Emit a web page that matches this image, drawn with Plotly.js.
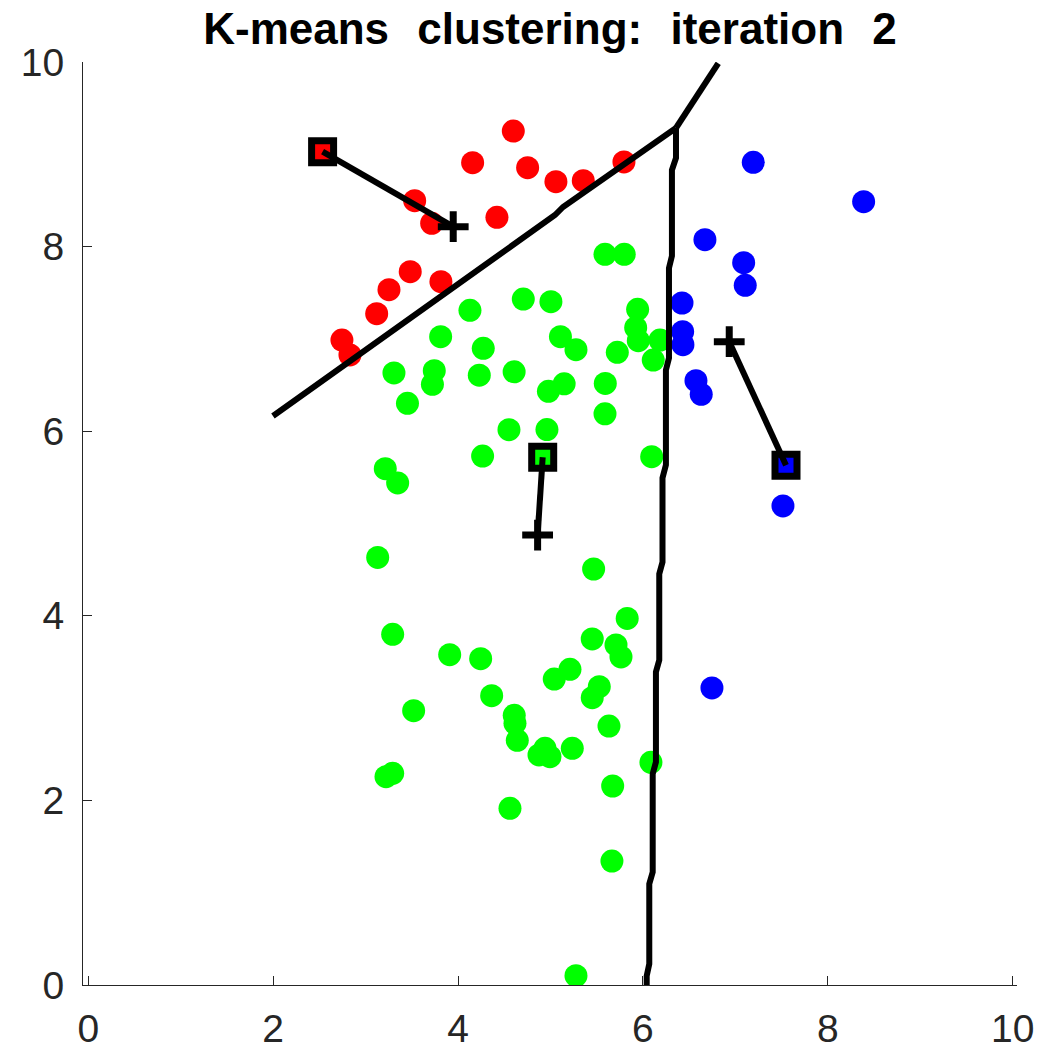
<!DOCTYPE html>
<html>
<head>
<meta charset="utf-8">
<script src="https://cdn.plot.ly/plotly-3.0.1.min.js"></script>
<style>
  html, body { margin: 0; padding: 0; background: #ffffff; }
  #chart { width: 1041px; height: 1053px; }
  .gtitle { word-spacing: 16px; }
</style>
</head>
<body>
<div id="chart"></div>
<script>
// ---- Data ----
const titleText = "K-means clustering: iteration 2";
const tickValues = [0, 2, 4, 6, 8, 10];
const tickLabels = ["0", "2", "4", "6", "8", "10"];

// Cluster 1 (red)
const redX = [4.598, 4.158, 4.753, 5.059, 5.355, 5.795, 3.531, 3.715, 4.421, 3.483, 3.253, 3.815, 3.120, 2.744, 2.831];
const redY = [9.252, 8.909, 8.855, 8.703, 8.714, 8.917, 8.497, 8.253, 8.317, 7.728, 7.533, 7.620, 7.273, 6.988, 6.826];

// Cluster 2 (green)
const greenX = [5.590, 5.798, 4.706, 5.005, 4.129, 5.943, 5.922, 5.950, 6.185, 3.812,
                5.108, 5.276, 4.273, 5.723, 6.112, 3.307, 3.743, 3.723, 4.230, 4.607,
                5.148, 4.978, 5.593, 3.453, 5.590, 4.551, 4.962, 4.266, 6.095, 3.213,
                3.347, 3.131, 5.467, 5.830, 3.293, 5.452, 5.709, 5.763, 3.910, 4.245,
                5.211, 5.041, 5.528, 5.452, 4.364, 3.520, 4.608, 4.616, 4.641, 5.633,
                4.941, 4.876, 4.995, 5.236, 6.087, 3.293, 3.221, 5.673, 4.562, 5.665,
                5.276];
const greenY = [7.917, 7.917, 7.432, 7.403, 7.310, 7.321, 7.121, 6.981, 6.988, 7.024,
                7.024, 6.883, 6.898, 6.855, 6.771, 6.631, 6.656, 6.508, 6.607, 6.644,
                6.514, 6.432, 6.517, 6.302, 6.189, 6.016, 6.018, 5.731, 5.724, 5.594,
                5.439, 4.632, 4.507, 3.971, 3.800, 3.749, 3.684, 3.554, 3.579, 3.535,
                3.420, 3.315, 3.232, 3.113, 3.134, 2.972, 2.922, 2.835, 2.651, 2.806,
                2.564, 2.492, 2.473, 2.564, 2.413, 2.294, 2.257, 2.156, 1.914, 1.343,
                0.101];

// Cluster 3 (blue)
const blueX = [7.194, 8.388, 6.671, 7.090, 7.107, 6.423, 6.430, 6.433, 6.574, 6.631, 7.515, 6.747];
const blueY = [8.913, 8.487, 8.075, 7.826, 7.581, 7.389, 7.078, 6.937, 6.547, 6.400, 5.190, 3.218];

// Centroids: previous (squares) and updated (plus signs)
const clusterColors = ["#ff0000", "#00ff00", "#0000ff"];
const oldCentX = [2.535, 4.916, 7.548];
const oldCentY = [9.028, 5.717, 5.631];
const newCentX = [3.948, 4.861, 6.934];
const newCentY = [8.216, 4.875, 6.970];

// Decision boundaries (vertices)
const bRedGreenX = [1.998, 5.049, 5.136, 6.358];
const bRedGreenY = [6.165, 8.342, 8.429, 9.285];
const bRedBlueX = [6.358, 6.815];
const bRedBlueY = [9.285, 9.986];
const bGreenBlueX = [6.358, 6.358, 6.314, 6.314, 6.282, 6.282, 6.249, 6.249, 6.212, 6.212,
                     6.177, 6.177, 6.141, 6.141, 6.106, 6.106, 6.069, 6.069, 6.041, 6.041];
const bGreenBlueY = [9.285, 8.960, 8.830, 7.898, 7.768, 6.793, 6.663, 5.634, 5.493, 4.583,
                     4.453, 3.521, 3.391, 2.416, 2.286, 1.224, 1.094, 0.228, 0.098, 0.0];

// ---- Traces ----
const ptSize = 23;
const traces = [];
traces.push({x: redX, y: redY, type: "scatter", mode: "markers",
  marker: {color: clusterColors[0], size: ptSize, line: {width: 0}}, hoverinfo: "skip"});
traces.push({x: greenX, y: greenY, type: "scatter", mode: "markers",
  marker: {color: clusterColors[1], size: ptSize, line: {width: 0}}, hoverinfo: "skip"});
traces.push({x: blueX, y: blueY, type: "scatter", mode: "markers",
  marker: {color: clusterColors[2], size: ptSize, line: {width: 0}}, hoverinfo: "skip"});

const boundaryLine = {color: "#000000", width: 6};
[[bRedGreenX, bRedGreenY], [bRedBlueX, bRedBlueY], [bGreenBlueX, bGreenBlueY]].forEach(b => {
  traces.push({x: b[0], y: b[1], type: "scatter", mode: "lines", line: boundaryLine, hoverinfo: "skip"});
});

traces.push({x: oldCentX, y: oldCentY, type: "scatter", mode: "markers",
  marker: {symbol: "square", size: 22, color: clusterColors, line: {color: "#000000", width: 7}},
  hoverinfo: "skip"});

for (let i = 0; i < oldCentX.length; i++) {
  traces.push({x: [oldCentX[i], newCentX[i]], y: [oldCentY[i], newCentY[i]],
    type: "scatter", mode: "lines", line: {color: "#000000", width: 6}, hoverinfo: "skip"});
}

traces.push({x: newCentX, y: newCentY, type: "scatter", mode: "markers",
  marker: {symbol: "cross-thin", size: 22, color: "#000000", line: {color: "#000000", width: 7}},
  hoverinfo: "skip"});

// ---- Layout ----
const axisFont = {family: "Liberation Sans, Arial, Helvetica, sans-serif", size: 39, color: "#262626"};
const axisCommon = {
  tickmode: "array", tickvals: tickValues, ticktext: tickLabels,
  ticks: "inside", ticklen: 9, tickwidth: 1, tickcolor: "#262626",
  showline: true, linecolor: "#262626", linewidth: 1,
  showgrid: false, zeroline: false, tickfont: axisFont, fixedrange: true
};

const layout = {
  width: 1041, height: 1053,
  margin: {l: 83, r: 24, t: 62, b: 68, pad: 0},
  paper_bgcolor: "#ffffff", plot_bgcolor: "#ffffff",
  showlegend: false,
  title: {
    text: titleText,
    font: {family: "Liberation Sans, Arial, Helvetica, sans-serif", size: 44, weight: "bold", color: "#000000"},
    x: 0.5, xref: "paper", xanchor: "center",
    y: 1 - 29 / 1053, yref: "container", yanchor: "middle"
  },
  xaxis: Object.assign({}, axisCommon, {range: [-0.057, 10.047], ticklabelstandoff: 9}),
  yaxis: Object.assign({}, axisCommon, {range: [0, 10], ticklabelstandoff: 10})
};

Plotly.newPlot("chart", traces, layout, {displayModeBar: false, staticPlot: true});
</script>
</body>
</html>
